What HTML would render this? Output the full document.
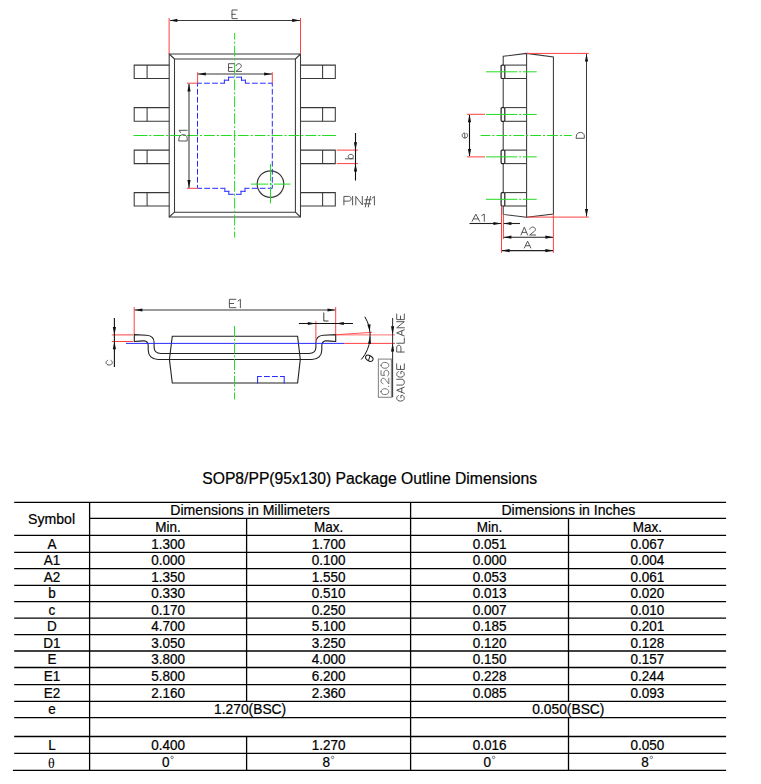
<!DOCTYPE html>
<html><head><meta charset="utf-8"><title>SOP8 Package Outline</title>
<style>
html,body{margin:0;padding:0;background:#fff;}
body{width:761px;height:784px;overflow:hidden;font-family:"Liberation Sans",sans-serif;}
svg{display:block;}
</style></head><body>
<svg width="761" height="784" viewBox="0 0 761 784">
<rect width="761" height="784" fill="#fff"/>
<g id="drawing">
<path d="M169.2 54 L300.5 54 L300.5 217 L169.2 217Z" fill="none" stroke="#383838" stroke-width="1.05" stroke-linejoin="miter"/>
<path d="M174.5 59 L295.4 59 L295.4 212.2 L174.5 212.2Z" fill="none" stroke="#383838" stroke-width="1.05" stroke-linejoin="miter"/>
<line x1="169.2" y1="54" x2="174.5" y2="59" stroke="#383838" stroke-width="1.1"/>
<line x1="300.5" y1="54" x2="295.4" y2="59" stroke="#383838" stroke-width="1.1"/>
<line x1="300.5" y1="217" x2="295.4" y2="212.2" stroke="#383838" stroke-width="1.1"/>
<line x1="169.2" y1="217" x2="174.5" y2="212.2" stroke="#383838" stroke-width="1.1"/>
<path d="M169.2 65.1 L134.2 65.1 L134.2 78.5 L169.2 78.5" fill="none" stroke="#383838" stroke-width="1.05" stroke-linejoin="miter"/>
<line x1="147.1" y1="65.1" x2="147.1" y2="78.5" stroke="#383838" stroke-width="1.05"/>
<path d="M300.5 65.1 L335.3 65.1 L335.3 78.5 L300.5 78.5" fill="none" stroke="#383838" stroke-width="1.05" stroke-linejoin="miter"/>
<line x1="322.6" y1="65.1" x2="322.6" y2="78.5" stroke="#383838" stroke-width="1.05"/>
<path d="M169.2 107.6 L134.2 107.6 L134.2 121.3 L169.2 121.3" fill="none" stroke="#383838" stroke-width="1.05" stroke-linejoin="miter"/>
<line x1="147.1" y1="107.6" x2="147.1" y2="121.3" stroke="#383838" stroke-width="1.05"/>
<path d="M300.5 107.6 L335.3 107.6 L335.3 121.3 L300.5 121.3" fill="none" stroke="#383838" stroke-width="1.05" stroke-linejoin="miter"/>
<line x1="322.6" y1="107.6" x2="322.6" y2="121.3" stroke="#383838" stroke-width="1.05"/>
<path d="M169.2 150.1 L134.2 150.1 L134.2 163.6 L169.2 163.6" fill="none" stroke="#383838" stroke-width="1.05" stroke-linejoin="miter"/>
<line x1="147.1" y1="150.1" x2="147.1" y2="163.6" stroke="#383838" stroke-width="1.05"/>
<path d="M300.5 150.1 L335.3 150.1 L335.3 163.6 L300.5 163.6" fill="none" stroke="#383838" stroke-width="1.05" stroke-linejoin="miter"/>
<line x1="322.6" y1="150.1" x2="322.6" y2="163.6" stroke="#383838" stroke-width="1.05"/>
<path d="M169.2 192.6 L134.2 192.6 L134.2 206 L169.2 206" fill="none" stroke="#383838" stroke-width="1.05" stroke-linejoin="miter"/>
<line x1="147.1" y1="192.6" x2="147.1" y2="206" stroke="#383838" stroke-width="1.05"/>
<path d="M300.5 192.6 L335.3 192.6 L335.3 206 L300.5 206" fill="none" stroke="#383838" stroke-width="1.05" stroke-linejoin="miter"/>
<line x1="322.6" y1="192.6" x2="322.6" y2="206" stroke="#383838" stroke-width="1.05"/>
<line x1="234.6" y1="33" x2="234.6" y2="237.6" stroke="#22dd22" stroke-width="1.0" stroke-dasharray="10.8 2.0 2.1 2.0" stroke-dashoffset="4.200"/>
<line x1="133.7" y1="135.5" x2="336" y2="135.5" stroke="#22dd22" stroke-width="1.0" stroke-dasharray="10.8 2.0 2.1 2.0" stroke-dashoffset="14.150"/>
<line x1="133.7" y1="135.5" x2="147.25" y2="135.5" stroke="#22dd22" stroke-width="1.0"/>
<line x1="322.35" y1="135.5" x2="336" y2="135.5" stroke="#22dd22" stroke-width="1.0"/>
<line x1="169.1" y1="18" x2="169.1" y2="54" stroke="#ff4040" stroke-width="1.0"/>
<line x1="300.5" y1="18" x2="300.5" y2="54" stroke="#ff4040" stroke-width="1.0"/>
<line x1="170" y1="20.4" x2="300" y2="20.4" stroke="#383838" stroke-width="1.05"/>
<path d="M169.6 20.4 L177.4 18.8 L177.4 22 Z" fill="#111"/>
<path d="M300 20.4 L292.2 22 L292.2 18.8 Z" fill="#111"/>
<path d="M6 0H0V9H6M0 4.5H3.9" transform="translate(234.6 14.3) scale(0.8667 0.9556) translate(-3 -4.5)" fill="none" stroke="#4d4d4d" stroke-width="0.95" vector-effect="non-scaling-stroke" stroke-linecap="round" stroke-linejoin="round"/>
<line x1="197.6" y1="72.3" x2="197.6" y2="83.2" stroke="#ff4040" stroke-width="1.0"/>
<line x1="272.3" y1="72.3" x2="272.3" y2="83.2" stroke="#ff4040" stroke-width="1.0"/>
<line x1="198" y1="74" x2="272" y2="74" stroke="#383838" stroke-width="1.05"/>
<path d="M198 74 L205.8 72.4 L205.8 75.6 Z" fill="#111"/>
<path d="M271.9 74 L264.1 75.6 L264.1 72.4 Z" fill="#111"/>
<path d="M6 0H0V9H6M0 4.5H3.9M8.2 2.3C8.5 0.9 9.6 0 11 0C12.7 0 13.8 1.1 13.8 2.5C13.8 3.9 12.9 4.9 11.6 5.9L8 9H14" transform="translate(235 67.55) scale(0.9286 0.8556) translate(-7 -4.5)" fill="none" stroke="#4d4d4d" stroke-width="0.95" vector-effect="non-scaling-stroke" stroke-linecap="round" stroke-linejoin="round"/>
<line x1="197.5" y1="83.2" x2="224.4" y2="83.2" stroke="#2a2aff" stroke-width="1.0" stroke-dasharray="5.8 2.2" stroke-dashoffset="1.450"/>
<line x1="224.4" y1="83.2" x2="224.4" y2="80.2" stroke="#2a2aff" stroke-width="1.0" stroke-linecap="square"/>
<line x1="224.4" y1="80.2" x2="228.6" y2="80.2" stroke="#2a2aff" stroke-width="1.0" stroke-linecap="square"/>
<line x1="228.6" y1="80.2" x2="228.6" y2="77.2" stroke="#2a2aff" stroke-width="1.0" stroke-linecap="square"/>
<line x1="228.6" y1="77.2" x2="241.5" y2="77.2" stroke="#2a2aff" stroke-width="1.0" stroke-dasharray="5.8 2.2" stroke-dashoffset="0.450"/>
<line x1="241.5" y1="77.2" x2="241.5" y2="80.2" stroke="#2a2aff" stroke-width="1.0" stroke-linecap="square"/>
<line x1="241.5" y1="80.2" x2="245.4" y2="80.2" stroke="#2a2aff" stroke-width="1.0" stroke-linecap="square"/>
<line x1="245.4" y1="80.2" x2="245.4" y2="83.2" stroke="#2a2aff" stroke-width="1.0" stroke-linecap="square"/>
<line x1="245.4" y1="83.2" x2="272.3" y2="83.2" stroke="#2a2aff" stroke-width="1.0" stroke-dasharray="5.8 2.2" stroke-dashoffset="1.450"/>
<line x1="272.3" y1="83.2" x2="272.3" y2="188.3" stroke="#2a2aff" stroke-width="1.0" stroke-dasharray="5.8 2.2" stroke-dashoffset="2.350"/>
<line x1="272.3" y1="188.3" x2="245" y2="188.3" stroke="#2a2aff" stroke-width="1.0" stroke-dasharray="5.8 2.2" stroke-dashoffset="1.250"/>
<line x1="245" y1="188.3" x2="245" y2="191.3" stroke="#2a2aff" stroke-width="1.0" stroke-linecap="square"/>
<line x1="245" y1="191.3" x2="241" y2="191.3" stroke="#2a2aff" stroke-width="1.0" stroke-linecap="square"/>
<line x1="241" y1="191.3" x2="241" y2="194.3" stroke="#2a2aff" stroke-width="1.0" stroke-linecap="square"/>
<line x1="241" y1="194.3" x2="228.8" y2="194.3" stroke="#2a2aff" stroke-width="1.0" stroke-dasharray="5.8 2.2" stroke-dashoffset="0.800"/>
<line x1="228.8" y1="194.3" x2="228.8" y2="191.3" stroke="#2a2aff" stroke-width="1.0" stroke-linecap="square"/>
<line x1="228.8" y1="191.3" x2="224.9" y2="191.3" stroke="#2a2aff" stroke-width="1.0" stroke-linecap="square"/>
<line x1="224.9" y1="191.3" x2="224.9" y2="188.3" stroke="#2a2aff" stroke-width="1.0" stroke-linecap="square"/>
<line x1="224.9" y1="188.3" x2="197.5" y2="188.3" stroke="#2a2aff" stroke-width="1.0" stroke-dasharray="5.8 2.2" stroke-dashoffset="1.200"/>
<line x1="197.5" y1="188.3" x2="197.5" y2="83.2" stroke="#2a2aff" stroke-width="1.0" stroke-dasharray="5.8 2.2" stroke-dashoffset="2.350"/>
<line x1="187" y1="83.2" x2="197.5" y2="83.2" stroke="#ff4040" stroke-width="1.0"/>
<line x1="187" y1="188.3" x2="197.5" y2="188.3" stroke="#ff4040" stroke-width="1.0"/>
<line x1="189" y1="84" x2="189" y2="188" stroke="#383838" stroke-width="1.05"/>
<path d="M189 83.6 L190.6 91.4 L187.4 91.4 Z" fill="#111"/>
<path d="M189 187.9 L187.4 180.1 L190.6 180.1 Z" fill="#111"/>
<path d="M0 0V9H2.6C4.8 9 6 7 6 4.5C6 2 4.8 0 2.6 0ZM8 1.8L10.2 0V9" transform="translate(183.1 135.65) rotate(-90) scale(1.0490 0.9111) translate(-5.1 -4.5)" fill="none" stroke="#4d4d4d" stroke-width="0.95" vector-effect="non-scaling-stroke" stroke-linecap="round" stroke-linejoin="round"/>
<circle cx="270.5" cy="184.1" r="13.3" fill="none" stroke="#383838" stroke-width="1.2"/>
<line x1="251" y1="184.1" x2="290.4" y2="184.1" stroke="#22dd22" stroke-width="1.0" stroke-dasharray="17.2 1.7 2.3 1.7 40"/>
<line x1="270.5" y1="164" x2="270.5" y2="203.4" stroke="#22dd22" stroke-width="1.0" stroke-dasharray="17.2 1.7 2.3 1.7 40"/>
<line x1="336.7" y1="150.1" x2="357.9" y2="150.1" stroke="#ff4040" stroke-width="1.0"/>
<line x1="336.7" y1="163.6" x2="357.9" y2="163.6" stroke="#ff4040" stroke-width="1.0"/>
<line x1="355.5" y1="133" x2="355.5" y2="180.6" stroke="#111" stroke-width="1.1"/>
<path d="M355.5 150.1 L353.9 142.3 L357.1 142.3 Z" fill="#111"/>
<path d="M355.5 163.6 L357.1 171.4 L353.9 171.4 Z" fill="#111"/>
<path d="M0 0V9M0 5.6C0.6 4 1.6 3.2 2.8 3.2C4.5 3.2 5.5 4.4 5.5 6.1C5.5 7.8 4.5 9 2.8 9C1.6 9 0.6 8.3 0 6.7" transform="translate(349.35 156.6) rotate(-90) scale(0.8000 0.9000) translate(-2.75 -4.5)" fill="none" stroke="#4d4d4d" stroke-width="0.95" vector-effect="non-scaling-stroke" stroke-linecap="round" stroke-linejoin="round"/>
<path d="M0 9V0H4.4C6.3 0 7.2 1.1 7.2 2.5C7.2 3.9 6.3 5 4.4 5H0M8.7 0V9M11.9 9V0L18.4 9V0M23.6 0L21.4 11.2M26.6 0L24.4 11.2M21 3.6H27.4M20.2 7.8H26.6M28.3 1.8L30.5 0V9" transform="translate(359.15 201.7) scale(1.0000 0.9464) translate(-15.25 -5.6)" fill="none" stroke="#4d4d4d" stroke-width="0.95" vector-effect="non-scaling-stroke" stroke-linecap="round" stroke-linejoin="round"/>
<path d="M503.2 56.3 L526.6 53.4 L553.4 57 L553.4 214 L526.6 217.3 L503.2 214.4Z" fill="none" stroke="#383838" stroke-width="1.05" stroke-linejoin="miter"/>
<line x1="526.6" y1="53.4" x2="526.6" y2="217.3" stroke="#383838" stroke-width="1.05"/>
<rect x="501.1" y="65.1" width="3.7" height="13.4" rx="1" fill="#fff" stroke="#222" stroke-width="1.2"/>
<line x1="504.6" y1="65.1" x2="526.6" y2="65.1" stroke="#383838" stroke-width="1.05"/>
<line x1="504.6" y1="78.5" x2="526.6" y2="78.5" stroke="#383838" stroke-width="1.05"/>
<line x1="486" y1="71.8" x2="536.7" y2="71.8" stroke="#22dd22" stroke-width="1.0" stroke-dasharray="31.4 1.8 2 1.8 40"/>
<rect x="501.1" y="107.6" width="3.7" height="13.7" rx="1" fill="#fff" stroke="#222" stroke-width="1.2"/>
<line x1="504.6" y1="107.6" x2="526.6" y2="107.6" stroke="#383838" stroke-width="1.05"/>
<line x1="504.6" y1="121.3" x2="526.6" y2="121.3" stroke="#383838" stroke-width="1.05"/>
<line x1="486" y1="114.45" x2="536.7" y2="114.45" stroke="#22dd22" stroke-width="1.0" stroke-dasharray="31.4 1.8 2 1.8 40"/>
<rect x="501.1" y="150.1" width="3.7" height="13.5" rx="1" fill="#fff" stroke="#222" stroke-width="1.2"/>
<line x1="504.6" y1="150.1" x2="526.6" y2="150.1" stroke="#383838" stroke-width="1.05"/>
<line x1="504.6" y1="163.6" x2="526.6" y2="163.6" stroke="#383838" stroke-width="1.05"/>
<line x1="486" y1="156.85" x2="536.7" y2="156.85" stroke="#22dd22" stroke-width="1.0" stroke-dasharray="31.4 1.8 2 1.8 40"/>
<rect x="501.1" y="192.6" width="3.7" height="13.4" rx="1" fill="#fff" stroke="#222" stroke-width="1.2"/>
<line x1="504.6" y1="192.6" x2="526.6" y2="192.6" stroke="#383838" stroke-width="1.05"/>
<line x1="504.6" y1="206" x2="526.6" y2="206" stroke="#383838" stroke-width="1.05"/>
<line x1="486" y1="199.3" x2="536.7" y2="199.3" stroke="#22dd22" stroke-width="1.0" stroke-dasharray="31.4 1.8 2 1.8 40"/>
<line x1="480.6" y1="135.5" x2="571.8" y2="135.5" stroke="#22dd22" stroke-width="1.0" stroke-dasharray="10.8 2.0 2.1 2.0" stroke-dashoffset="1.100"/>
<line x1="467" y1="114.3" x2="485" y2="114.3" stroke="#ff4040" stroke-width="1.0"/>
<line x1="467" y1="156.9" x2="485" y2="156.9" stroke="#ff4040" stroke-width="1.0"/>
<line x1="469.5" y1="115" x2="469.5" y2="156" stroke="#111" stroke-width="1.1"/>
<path d="M469.5 114.5 L471.1 122.3 L467.9 122.3 Z" fill="#111"/>
<path d="M469.5 156.7 L467.9 148.9 L471.1 148.9 Z" fill="#111"/>
<path d="M0.1 6H5.6C5.6 4.3 4.5 3.2 2.8 3.2C1.1 3.2 0 4.4 0 6.1C0 7.8 1.1 9 2.8 9C3.8 9 4.6 8.7 5.2 8.1" transform="translate(464.9 135.5) rotate(-90) scale(0.8929 0.9310) translate(-2.8 -6.1)" fill="none" stroke="#4d4d4d" stroke-width="0.95" vector-effect="non-scaling-stroke" stroke-linecap="round" stroke-linejoin="round"/>
<line x1="526.6" y1="53.4" x2="588.7" y2="53.4" stroke="#ff4040" stroke-width="1.0"/>
<line x1="526.6" y1="217.1" x2="588.7" y2="217.1" stroke="#ff4040" stroke-width="1.0"/>
<line x1="586.5" y1="54" x2="586.5" y2="216.5" stroke="#383838" stroke-width="1.05"/>
<path d="M586.5 53.8 L588.1 61.6 L584.9 61.6 Z" fill="#111"/>
<path d="M586.5 216.7 L584.9 208.9 L588.1 208.9 Z" fill="#111"/>
<path d="M0 0V9H2.6C4.8 9 6 7 6 4.5C6 2 4.8 0 2.6 0Z" transform="translate(580.35 135.4) rotate(-90) scale(0.9667 0.8778) translate(-3 -4.5)" fill="none" stroke="#4d4d4d" stroke-width="0.95" vector-effect="non-scaling-stroke" stroke-linecap="round" stroke-linejoin="round"/>
<line x1="501.5" y1="206" x2="501.5" y2="252.8" stroke="#ff4040" stroke-width="1.0"/>
<line x1="503.4" y1="214.4" x2="503.4" y2="239" stroke="#ff4040" stroke-width="1.0"/>
<line x1="553.4" y1="214" x2="553.4" y2="252.8" stroke="#ff4040" stroke-width="1.0"/>
<line x1="469.5" y1="223.5" x2="501" y2="223.5" stroke="#222" stroke-width="1.1"/>
<path d="M501.2 223.5 L493.4 225.1 L493.4 221.9 Z" fill="#111"/>
<line x1="503.8" y1="223.5" x2="520" y2="223.5" stroke="#222" stroke-width="1.1"/>
<path d="M503.6 223.5 L511.4 221.9 L511.4 225.1 Z" fill="#111"/>
<path d="M0 9L3.3 0L6.6 9M1.2 6H5.4M8.6 1.8L10.8 0V9" transform="translate(478.2 217.7) scale(1.1296 0.8000) translate(-5.4 -4.5)" fill="none" stroke="#4d4d4d" stroke-width="0.95" vector-effect="non-scaling-stroke" stroke-linecap="round" stroke-linejoin="round"/>
<line x1="503.8" y1="237.2" x2="553" y2="237.2" stroke="#222" stroke-width="1.1"/>
<path d="M503.6 237.2 L511.4 235.6 L511.4 238.8 Z" fill="#111"/>
<path d="M553.2 237.2 L545.4 238.8 L545.4 235.6 Z" fill="#111"/>
<path d="M0 9L3.3 0L6.6 9M1.2 6H5.4M8.8 2.3C9.1 0.9 10.2 0 11.6 0C13.3 0 14.4 1.1 14.4 2.5C14.4 3.9 13.5 4.9 12.2 5.9L8.6 9H14.6" transform="translate(528.3 231.05) scale(1.0000 0.8778) translate(-7.3 -4.5)" fill="none" stroke="#4d4d4d" stroke-width="0.95" vector-effect="non-scaling-stroke" stroke-linecap="round" stroke-linejoin="round"/>
<line x1="502" y1="250.6" x2="553" y2="250.6" stroke="#222" stroke-width="1.1"/>
<path d="M501.8 250.6 L509.6 249 L509.6 252.2 Z" fill="#111"/>
<path d="M553.2 250.6 L545.4 252.2 L545.4 249 Z" fill="#111"/>
<path d="M0 9L3.3 0L6.6 9M1.2 6H5.4" transform="translate(527.6 244.6) scale(0.9697 0.7556) translate(-3.3 -4.5)" fill="none" stroke="#4d4d4d" stroke-width="0.95" vector-effect="non-scaling-stroke" stroke-linecap="round" stroke-linejoin="round"/>
<line x1="134.2" y1="307" x2="134.2" y2="334.7" stroke="#ff4040" stroke-width="1.0"/>
<line x1="335.7" y1="307" x2="335.7" y2="334.7" stroke="#ff4040" stroke-width="1.0"/>
<line x1="134.6" y1="310" x2="335.3" y2="310" stroke="#383838" stroke-width="1.05"/>
<path d="M134.6 310 L142.4 308.4 L142.4 311.6 Z" fill="#111"/>
<path d="M335.3 310 L327.5 311.6 L327.5 308.4 Z" fill="#111"/>
<path d="M6 0H0V9H6M0 4.5H3.9M8 1.8L10.2 0V9" transform="translate(234.9 303.5) scale(1.0784 0.9333) translate(-5.1 -4.5)" fill="none" stroke="#4d4d4d" stroke-width="0.95" vector-effect="non-scaling-stroke" stroke-linecap="round" stroke-linejoin="round"/>
<path d="M172.3 336.3 L297.6 336.3 L300.3 359.4 L297.6 383 L172.3 383 L169.4 359.4Z" fill="none" stroke="#222" stroke-width="1.1" stroke-linejoin="miter"/>
<path d="M134.3 334.6 L146.5 335.3 C151 335.6 154.1 338.3 154.1 342.6 V347 C154.1 350.8 156.5 353.5 161 353.5 H309 C313.5 353.5 315.9 350.8 315.9 347 V342.6 C315.9 338.3 319 335.6 323.5 335.3 L335.7 334.6 V341.5 C332 341.1 328.5 340.8 326 340.9 C323.2 341.1 321.8 343.2 321.8 345.5 V350 C321.8 355.7 318 359.5 312 359.5 H158 C152 359.5 148.2 355.7 148.2 350 V345.5 C148.2 343.2 146.8 341.1 144 340.9 C141.5 340.8 138 341.1 134.3 341.5 Z" fill="none" stroke="#222" stroke-width="1.1"/>
<line x1="126" y1="343.4" x2="344" y2="343.4" stroke="#2a2aff" stroke-width="1.0"/>
<line x1="344" y1="343.4" x2="395" y2="343.4" stroke="#ff4040" stroke-width="1.0"/>
<line x1="335.7" y1="334.9" x2="395" y2="334.9" stroke="#ff4040" stroke-width="1.0" opacity="0.75"/>
<line x1="335.7" y1="334.8" x2="372" y2="332.3" stroke="#ff4040" stroke-width="1.0" opacity="0.9"/>
<line x1="234.5" y1="326" x2="234.5" y2="399.4" stroke="#22dd22" stroke-width="1.0" stroke-dasharray="11 1.8 2 1.8"/>
<line x1="257.6" y1="383" x2="257.6" y2="376.4" stroke="#2a2aff" stroke-width="1.05" stroke-linecap="square"/>
<line x1="257.6" y1="376.4" x2="284.2" y2="376.4" stroke="#2a2aff" stroke-width="1.05" stroke-dasharray="5.8 2.2" stroke-dashoffset="1.600"/>
<line x1="284.2" y1="376.4" x2="284.2" y2="383" stroke="#2a2aff" stroke-width="1.05" stroke-linecap="square"/>
<line x1="111.8" y1="334.9" x2="133.1" y2="334.9" stroke="#ff4040" stroke-width="1.0"/>
<line x1="111.8" y1="341.5" x2="133.1" y2="341.5" stroke="#ff4040" stroke-width="1.0"/>
<line x1="114.4" y1="318" x2="114.4" y2="366.9" stroke="#111" stroke-width="1.1"/>
<path d="M114.4 334.9 L112.8 327.1 L116 327.1 Z" fill="#111"/>
<path d="M114.4 341.5 L116 349.3 L112.8 349.3 Z" fill="#111"/>
<path d="M5.5 4.4C5 3.6 4 3.2 2.8 3.2C1.1 3.2 0 4.4 0 6.1C0 7.8 1.1 9 2.8 9C4 9 5 8.6 5.5 7.8" transform="translate(109.2 362.7) rotate(-90) scale(0.8364 1.0690) translate(-2.75 -6.1)" fill="none" stroke="#4d4d4d" stroke-width="0.95" vector-effect="non-scaling-stroke" stroke-linecap="round" stroke-linejoin="round"/>
<line x1="315.9" y1="321.2" x2="315.9" y2="341.2" stroke="#ff4040" stroke-width="1.0"/>
<line x1="298.9" y1="323.5" x2="353" y2="323.5" stroke="#111" stroke-width="1.1"/>
<path d="M315.6 323.5 L307.8 325.1 L307.8 321.9 Z" fill="#111"/>
<path d="M336 323.5 L343.8 321.9 L343.8 325.1 Z" fill="#111"/>
<path d="M0 0V9H5.5" transform="translate(325.95 316.95) scale(0.7818 0.9000) translate(-2.75 -4.5)" fill="none" stroke="#333" stroke-width="0.95" vector-effect="non-scaling-stroke" stroke-linecap="round" stroke-linejoin="round"/>
<path d="M364.8 316.7 A36.45 36.45 0 0 1 361.3 359.5" fill="none" stroke="#111" stroke-width="1.0"/>
<path d="M369.8 331.5 L367.38 324.74 L370.55 324.36 Z" fill="#111"/>
<path d="M370 335.8 L371.1 343.86 L368.1 343.72 Z" fill="#111"/>
<g transform="translate(369.3 358.2) rotate(30)"><ellipse cx="0" cy="0" rx="4" ry="2.6" fill="none" stroke="#111" stroke-width="1"/><line x1="-0.5" y1="-2.6" x2="0.5" y2="2.6" stroke="#111" stroke-width="0.9"/></g>
<line x1="392.6" y1="318" x2="392.6" y2="397.3" stroke="#333" stroke-width="1.05"/>
<path d="M392.6 334.8 L391 326.3 L394.2 326.3 Z" fill="#111"/>
<path d="M392.6 343.4 L394.2 351.4 L391 351.4 Z" fill="#111"/>
<rect x="378.4" y="359.1" width="13.0" height="38.2" fill="none" stroke="#8a8a8a" stroke-width="1.1"/>
<path d="M3 0C1.1 0 0 2 0 4.5C0 7 1.1 9 3 9C4.9 9 6 7 6 4.5C6 2 4.9 0 3 0ZM8.4 8.4V9M11 2.3C11.3 0.9 12.4 0 13.8 0C15.5 0 16.6 1.1 16.6 2.5C16.6 3.9 15.7 4.9 14.4 5.9L10.8 9H16.8M24.4 0H19.9L19.4 4.1C20.1 3.6 20.9 3.3 21.8 3.3C23.6 3.3 24.8 4.5 24.8 6.2C24.8 7.9 23.6 9 21.8 9C20.5 9 19.5 8.5 18.9 7.6M29.8 0C27.9 0 26.8 2 26.8 4.5C26.8 7 27.9 9 29.8 9C31.7 9 32.8 7 32.8 4.5C32.8 2 31.7 0 29.8 0Z" transform="translate(384.9 378.5) rotate(-90) scale(0.9817 0.8667) translate(-16.4 -4.5)" fill="none" stroke="#6a6a6a" stroke-width="0.95" vector-effect="non-scaling-stroke" stroke-linecap="round" stroke-linejoin="round"/>
<path d="M6 2C5.5 0.8 4.4 0 3.1 0C1.2 0 0 2 0 4.5C0 7 1.2 9 3.1 9C4.5 9 5.6 8.3 6.1 7V5H3.6M8.3 9L11.6 0L14.9 9M9.5 6H13.7M17.1 0V6.2C17.1 8 18.3 9 20.2 9C22.1 9 23.3 8 23.3 6.2V0M31.5 2C31 0.8 29.9 0 28.6 0C26.7 0 25.5 2 25.5 4.5C25.5 7 26.7 9 28.6 9C30 9 31.1 8.3 31.6 7V5H29.1M39.8 0H33.8V9H39.8M33.8 4.5H37.7M52.4 9V0H56.8C58.7 0 59.6 1.1 59.6 2.5C59.6 3.9 58.7 5 56.8 5H52.4M61.8 0V9H67.3M69.5 9L72.8 0L76.1 9M70.7 6H74.9M78.3 9V0L84.8 9V0M93 0H87V9H93M87 4.5H90.9" transform="translate(400.5 357.55) rotate(-90) scale(0.9366 0.8444) translate(-46.5 -4.5)" fill="none" stroke="#4d4d4d" stroke-width="0.95" vector-effect="non-scaling-stroke" stroke-linecap="round" stroke-linejoin="round"/>
</g>
<g id="table">
<line x1="14.2" y1="502.4" x2="726.1" y2="502.4" stroke="#000" stroke-width="1.3"/>
<line x1="89.6" y1="518.4" x2="726.1" y2="518.4" stroke="#000" stroke-width="1.3"/>
<line x1="14.2" y1="535.3" x2="726.1" y2="535.3" stroke="#000" stroke-width="1.3"/>
<line x1="14.2" y1="552.3" x2="726.1" y2="552.3" stroke="#000" stroke-width="1.3"/>
<line x1="14.2" y1="568.6" x2="726.1" y2="568.6" stroke="#000" stroke-width="1.3"/>
<line x1="14.2" y1="585.3" x2="726.1" y2="585.3" stroke="#000" stroke-width="1.3"/>
<line x1="14.2" y1="601.6" x2="726.1" y2="601.6" stroke="#000" stroke-width="1.3"/>
<line x1="14.2" y1="618.2" x2="726.1" y2="618.2" stroke="#000" stroke-width="1.3"/>
<line x1="14.2" y1="634.7" x2="726.1" y2="634.7" stroke="#000" stroke-width="1.3"/>
<line x1="14.2" y1="651" x2="726.1" y2="651" stroke="#000" stroke-width="1.3"/>
<line x1="14.2" y1="667.5" x2="726.1" y2="667.5" stroke="#000" stroke-width="1.3"/>
<line x1="14.2" y1="684.7" x2="726.1" y2="684.7" stroke="#000" stroke-width="1.3"/>
<line x1="14.2" y1="701.3" x2="726.1" y2="701.3" stroke="#000" stroke-width="1.3"/>
<line x1="14.2" y1="717.6" x2="726.1" y2="717.6" stroke="#000" stroke-width="1.3"/>
<line x1="14.2" y1="736.5" x2="726.1" y2="736.5" stroke="#000" stroke-width="1.3"/>
<line x1="14.2" y1="753.4" x2="726.1" y2="753.4" stroke="#000" stroke-width="1.3"/>
<line x1="12.9" y1="770.4" x2="726.1" y2="770.4" stroke="#000" stroke-width="1.3"/>
<line x1="89.6" y1="502.4" x2="89.6" y2="770.4" stroke="#000" stroke-width="1.3"/>
<line x1="410.6" y1="502.4" x2="410.6" y2="770.4" stroke="#000" stroke-width="1.3"/>
<line x1="246.6" y1="518.4" x2="246.6" y2="701.3" stroke="#000" stroke-width="1.3"/>
<line x1="246.6" y1="736.5" x2="246.6" y2="770.4" stroke="#000" stroke-width="1.3"/>
<line x1="568.5" y1="518.4" x2="568.5" y2="701.3" stroke="#000" stroke-width="1.3"/>
<line x1="568.5" y1="717.6" x2="568.5" y2="770.4" stroke="#000" stroke-width="1.3"/>
<text transform="translate(51.6 524) scale(1 1.08)" font-family="Liberation Sans" font-size="14.1" text-anchor="middle" fill="#000" stroke="#000" stroke-width="0.22">Symbol</text>
<text transform="translate(250.1 515.4) scale(1 1.08)" font-family="Liberation Sans" font-size="14.1" text-anchor="middle" fill="#000" stroke="#000" stroke-width="0.22">Dimensions in Millimeters</text>
<text transform="translate(568.35 515.4) scale(1 1.08)" font-family="Liberation Sans" font-size="14.1" text-anchor="middle" fill="#000" stroke="#000" stroke-width="0.22">Dimensions in Inches</text>
<text transform="translate(168.1 531.8) scale(1 1.08)" font-family="Liberation Sans" font-size="13.5" text-anchor="middle" fill="#000" stroke="#000" stroke-width="0.22">Min.</text>
<text transform="translate(328.6 531.8) scale(1 1.08)" font-family="Liberation Sans" font-size="13.5" text-anchor="middle" fill="#000" stroke="#000" stroke-width="0.22">Max.</text>
<text transform="translate(489.55 531.8) scale(1 1.08)" font-family="Liberation Sans" font-size="13.5" text-anchor="middle" fill="#000" stroke="#000" stroke-width="0.22">Min.</text>
<text transform="translate(647.3 531.8) scale(1 1.08)" font-family="Liberation Sans" font-size="13.5" text-anchor="middle" fill="#000" stroke="#000" stroke-width="0.22">Max.</text>
<text transform="translate(51.9 548.9) scale(1 1.08)" font-family="Liberation Sans" font-size="13.5" text-anchor="middle" fill="#000" stroke="#000" stroke-width="0.22">A</text>
<text transform="translate(168.1 548.9) scale(1 1.08)" font-family="Liberation Sans" font-size="13.5" text-anchor="middle" fill="#000" stroke="#000" stroke-width="0.22">1.300</text>
<text transform="translate(328.6 548.9) scale(1 1.08)" font-family="Liberation Sans" font-size="13.5" text-anchor="middle" fill="#000" stroke="#000" stroke-width="0.22">1.700</text>
<text transform="translate(489.55 548.9) scale(1 1.08)" font-family="Liberation Sans" font-size="13.5" text-anchor="middle" fill="#000" stroke="#000" stroke-width="0.22">0.051</text>
<text transform="translate(647.3 548.9) scale(1 1.08)" font-family="Liberation Sans" font-size="13.5" text-anchor="middle" fill="#000" stroke="#000" stroke-width="0.22">0.067</text>
<text transform="translate(51.9 565.2) scale(1 1.08)" font-family="Liberation Sans" font-size="13.5" text-anchor="middle" fill="#000" stroke="#000" stroke-width="0.22">A1</text>
<text transform="translate(168.1 565.2) scale(1 1.08)" font-family="Liberation Sans" font-size="13.5" text-anchor="middle" fill="#000" stroke="#000" stroke-width="0.22">0.000</text>
<text transform="translate(328.6 565.2) scale(1 1.08)" font-family="Liberation Sans" font-size="13.5" text-anchor="middle" fill="#000" stroke="#000" stroke-width="0.22">0.100</text>
<text transform="translate(489.55 565.2) scale(1 1.08)" font-family="Liberation Sans" font-size="13.5" text-anchor="middle" fill="#000" stroke="#000" stroke-width="0.22">0.000</text>
<text transform="translate(647.3 565.2) scale(1 1.08)" font-family="Liberation Sans" font-size="13.5" text-anchor="middle" fill="#000" stroke="#000" stroke-width="0.22">0.004</text>
<text transform="translate(51.9 581.9) scale(1 1.08)" font-family="Liberation Sans" font-size="13.5" text-anchor="middle" fill="#000" stroke="#000" stroke-width="0.22">A2</text>
<text transform="translate(168.1 581.9) scale(1 1.08)" font-family="Liberation Sans" font-size="13.5" text-anchor="middle" fill="#000" stroke="#000" stroke-width="0.22">1.350</text>
<text transform="translate(328.6 581.9) scale(1 1.08)" font-family="Liberation Sans" font-size="13.5" text-anchor="middle" fill="#000" stroke="#000" stroke-width="0.22">1.550</text>
<text transform="translate(489.55 581.9) scale(1 1.08)" font-family="Liberation Sans" font-size="13.5" text-anchor="middle" fill="#000" stroke="#000" stroke-width="0.22">0.053</text>
<text transform="translate(647.3 581.9) scale(1 1.08)" font-family="Liberation Sans" font-size="13.5" text-anchor="middle" fill="#000" stroke="#000" stroke-width="0.22">0.061</text>
<text transform="translate(51.9 598.2) scale(1 1.08)" font-family="Liberation Sans" font-size="13.5" text-anchor="middle" fill="#000" stroke="#000" stroke-width="0.22">b</text>
<text transform="translate(168.1 598.2) scale(1 1.08)" font-family="Liberation Sans" font-size="13.5" text-anchor="middle" fill="#000" stroke="#000" stroke-width="0.22">0.330</text>
<text transform="translate(328.6 598.2) scale(1 1.08)" font-family="Liberation Sans" font-size="13.5" text-anchor="middle" fill="#000" stroke="#000" stroke-width="0.22">0.510</text>
<text transform="translate(489.55 598.2) scale(1 1.08)" font-family="Liberation Sans" font-size="13.5" text-anchor="middle" fill="#000" stroke="#000" stroke-width="0.22">0.013</text>
<text transform="translate(647.3 598.2) scale(1 1.08)" font-family="Liberation Sans" font-size="13.5" text-anchor="middle" fill="#000" stroke="#000" stroke-width="0.22">0.020</text>
<text transform="translate(51.9 614.8) scale(1 1.08)" font-family="Liberation Sans" font-size="13.5" text-anchor="middle" fill="#000" stroke="#000" stroke-width="0.22">c</text>
<text transform="translate(168.1 614.8) scale(1 1.08)" font-family="Liberation Sans" font-size="13.5" text-anchor="middle" fill="#000" stroke="#000" stroke-width="0.22">0.170</text>
<text transform="translate(328.6 614.8) scale(1 1.08)" font-family="Liberation Sans" font-size="13.5" text-anchor="middle" fill="#000" stroke="#000" stroke-width="0.22">0.250</text>
<text transform="translate(489.55 614.8) scale(1 1.08)" font-family="Liberation Sans" font-size="13.5" text-anchor="middle" fill="#000" stroke="#000" stroke-width="0.22">0.007</text>
<text transform="translate(647.3 614.8) scale(1 1.08)" font-family="Liberation Sans" font-size="13.5" text-anchor="middle" fill="#000" stroke="#000" stroke-width="0.22">0.010</text>
<text transform="translate(51.9 631.3) scale(1 1.08)" font-family="Liberation Sans" font-size="13.5" text-anchor="middle" fill="#000" stroke="#000" stroke-width="0.22">D</text>
<text transform="translate(168.1 631.3) scale(1 1.08)" font-family="Liberation Sans" font-size="13.5" text-anchor="middle" fill="#000" stroke="#000" stroke-width="0.22">4.700</text>
<text transform="translate(328.6 631.3) scale(1 1.08)" font-family="Liberation Sans" font-size="13.5" text-anchor="middle" fill="#000" stroke="#000" stroke-width="0.22">5.100</text>
<text transform="translate(489.55 631.3) scale(1 1.08)" font-family="Liberation Sans" font-size="13.5" text-anchor="middle" fill="#000" stroke="#000" stroke-width="0.22">0.185</text>
<text transform="translate(647.3 631.3) scale(1 1.08)" font-family="Liberation Sans" font-size="13.5" text-anchor="middle" fill="#000" stroke="#000" stroke-width="0.22">0.201</text>
<text transform="translate(51.9 647.6) scale(1 1.08)" font-family="Liberation Sans" font-size="13.5" text-anchor="middle" fill="#000" stroke="#000" stroke-width="0.22">D1</text>
<text transform="translate(168.1 647.6) scale(1 1.08)" font-family="Liberation Sans" font-size="13.5" text-anchor="middle" fill="#000" stroke="#000" stroke-width="0.22">3.050</text>
<text transform="translate(328.6 647.6) scale(1 1.08)" font-family="Liberation Sans" font-size="13.5" text-anchor="middle" fill="#000" stroke="#000" stroke-width="0.22">3.250</text>
<text transform="translate(489.55 647.6) scale(1 1.08)" font-family="Liberation Sans" font-size="13.5" text-anchor="middle" fill="#000" stroke="#000" stroke-width="0.22">0.120</text>
<text transform="translate(647.3 647.6) scale(1 1.08)" font-family="Liberation Sans" font-size="13.5" text-anchor="middle" fill="#000" stroke="#000" stroke-width="0.22">0.128</text>
<text transform="translate(51.9 664.1) scale(1 1.08)" font-family="Liberation Sans" font-size="13.5" text-anchor="middle" fill="#000" stroke="#000" stroke-width="0.22">E</text>
<text transform="translate(168.1 664.1) scale(1 1.08)" font-family="Liberation Sans" font-size="13.5" text-anchor="middle" fill="#000" stroke="#000" stroke-width="0.22">3.800</text>
<text transform="translate(328.6 664.1) scale(1 1.08)" font-family="Liberation Sans" font-size="13.5" text-anchor="middle" fill="#000" stroke="#000" stroke-width="0.22">4.000</text>
<text transform="translate(489.55 664.1) scale(1 1.08)" font-family="Liberation Sans" font-size="13.5" text-anchor="middle" fill="#000" stroke="#000" stroke-width="0.22">0.150</text>
<text transform="translate(647.3 664.1) scale(1 1.08)" font-family="Liberation Sans" font-size="13.5" text-anchor="middle" fill="#000" stroke="#000" stroke-width="0.22">0.157</text>
<text transform="translate(51.9 681.3) scale(1 1.08)" font-family="Liberation Sans" font-size="13.5" text-anchor="middle" fill="#000" stroke="#000" stroke-width="0.22">E1</text>
<text transform="translate(168.1 681.3) scale(1 1.08)" font-family="Liberation Sans" font-size="13.5" text-anchor="middle" fill="#000" stroke="#000" stroke-width="0.22">5.800</text>
<text transform="translate(328.6 681.3) scale(1 1.08)" font-family="Liberation Sans" font-size="13.5" text-anchor="middle" fill="#000" stroke="#000" stroke-width="0.22">6.200</text>
<text transform="translate(489.55 681.3) scale(1 1.08)" font-family="Liberation Sans" font-size="13.5" text-anchor="middle" fill="#000" stroke="#000" stroke-width="0.22">0.228</text>
<text transform="translate(647.3 681.3) scale(1 1.08)" font-family="Liberation Sans" font-size="13.5" text-anchor="middle" fill="#000" stroke="#000" stroke-width="0.22">0.244</text>
<text transform="translate(51.9 697.9) scale(1 1.08)" font-family="Liberation Sans" font-size="13.5" text-anchor="middle" fill="#000" stroke="#000" stroke-width="0.22">E2</text>
<text transform="translate(168.1 697.9) scale(1 1.08)" font-family="Liberation Sans" font-size="13.5" text-anchor="middle" fill="#000" stroke="#000" stroke-width="0.22">2.160</text>
<text transform="translate(328.6 697.9) scale(1 1.08)" font-family="Liberation Sans" font-size="13.5" text-anchor="middle" fill="#000" stroke="#000" stroke-width="0.22">2.360</text>
<text transform="translate(489.55 697.9) scale(1 1.08)" font-family="Liberation Sans" font-size="13.5" text-anchor="middle" fill="#000" stroke="#000" stroke-width="0.22">0.085</text>
<text transform="translate(647.3 697.9) scale(1 1.08)" font-family="Liberation Sans" font-size="13.5" text-anchor="middle" fill="#000" stroke="#000" stroke-width="0.22">0.093</text>
<text transform="translate(51.9 714) scale(1 1.08)" font-family="Liberation Sans" font-size="13.5" text-anchor="middle" fill="#000" stroke="#000" stroke-width="0.22">e</text>
<text transform="translate(250.1 714) scale(1 1.08)" font-family="Liberation Sans" font-size="13.8" text-anchor="middle" fill="#000" stroke="#000" stroke-width="0.22">1.270(BSC)</text>
<text transform="translate(568.35 714) scale(1 1.08)" font-family="Liberation Sans" font-size="13.8" text-anchor="middle" fill="#000" stroke="#000" stroke-width="0.22">0.050(BSC)</text>
<text transform="translate(51.9 750) scale(1 1.08)" font-family="Liberation Sans" font-size="13.5" text-anchor="middle" fill="#000" stroke="#000" stroke-width="0.22">L</text>
<text transform="translate(168.1 750) scale(1 1.08)" font-family="Liberation Sans" font-size="13.5" text-anchor="middle" fill="#000" stroke="#000" stroke-width="0.22">0.400</text>
<text transform="translate(328.6 750) scale(1 1.08)" font-family="Liberation Sans" font-size="13.5" text-anchor="middle" fill="#000" stroke="#000" stroke-width="0.22">1.270</text>
<text transform="translate(489.55 750) scale(1 1.08)" font-family="Liberation Sans" font-size="13.5" text-anchor="middle" fill="#000" stroke="#000" stroke-width="0.22">0.016</text>
<text transform="translate(647.3 750) scale(1 1.08)" font-family="Liberation Sans" font-size="13.5" text-anchor="middle" fill="#000" stroke="#000" stroke-width="0.22">0.050</text>
<text transform="translate(51.4 767.8) scale(1 1.05)" font-family="Liberation Serif" font-size="14" text-anchor="middle" fill="#000">&#952;</text>
<text transform="translate(165.8 767) scale(1 1.08)" font-family="Liberation Sans" font-size="13.5" text-anchor="middle" fill="#000" stroke="#000" stroke-width="0.22">0</text>
<circle cx="172.1" cy="757.4" r="1.25" fill="none" stroke="#333" stroke-width="0.6"/>
<text transform="translate(326.3 767) scale(1 1.08)" font-family="Liberation Sans" font-size="13.5" text-anchor="middle" fill="#000" stroke="#000" stroke-width="0.22">8</text>
<circle cx="332.6" cy="757.4" r="1.25" fill="none" stroke="#333" stroke-width="0.6"/>
<text transform="translate(487.25 767) scale(1 1.08)" font-family="Liberation Sans" font-size="13.5" text-anchor="middle" fill="#000" stroke="#000" stroke-width="0.22">0</text>
<circle cx="493.55" cy="757.4" r="1.25" fill="none" stroke="#333" stroke-width="0.6"/>
<text transform="translate(645 767) scale(1 1.08)" font-family="Liberation Sans" font-size="13.5" text-anchor="middle" fill="#000" stroke="#000" stroke-width="0.22">8</text>
<circle cx="651.3" cy="757.4" r="1.25" fill="none" stroke="#333" stroke-width="0.6"/>
<text transform="translate(369.6 483.5) scale(1 1.04)" font-family="Liberation Sans" font-size="15.7" text-anchor="middle" fill="#000" stroke="#000" stroke-width="0.22">SOP8/PP(95x130) Package Outline Dimensions</text>
</g>
</svg>
</body></html>
